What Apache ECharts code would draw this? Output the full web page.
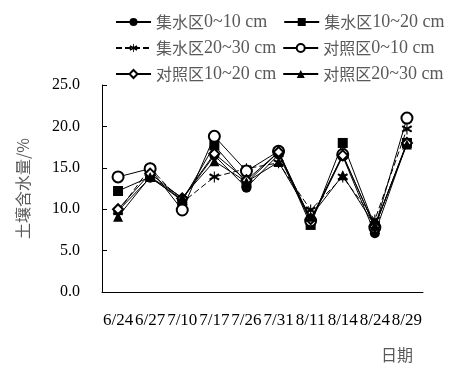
<!DOCTYPE html>
<html>
<head>
<meta charset="utf-8">
<script src="https://cdn.jsdelivr.net/npm/echarts@6/dist/echarts.min.js"></script>
<style>
  html, body { margin: 0; padding: 0; background: #fff; }
  #chart { width: 469px; height: 376px; }
</style>
</head>
<body>
<div id="chart"></div>
<script>
// Fechas de muestreo
const dates = ['6/24', '6/27', '7/10', '7/17', '7/26', '7/31', '8/11', '8/14', '8/24', '8/29'];
const yTicks = [0, 5, 10, 15, 20, 25];

// Contenido de agua del suelo (%) por serie
const jsq0_10 = [9.8, 13.8, 11.2, 16.5, 12.6, 16.6, 8.5, 16.4, 7.1, 18.0];
const jsq10_20 = [12.2, 13.9, 11.0, 17.7, 13.2, 16.9, 8.1, 18.0, 7.9, 18.0];
const jsq20_30 = [9.7, 15.0, 10.8, 13.9, 14.9, 15.6, 9.9, 13.9, 8.7, 19.7];
const dzq0_10 = [13.9, 14.9, 9.9, 18.8, 14.6, 17.0, 8.6, 16.6, 7.8, 21.0];
const dzq10_20 = [10.0, 14.3, 11.3, 16.7, 13.5, 16.9, 8.8, 16.5, 7.9, 18.0];
const dzq20_30 = [9.1, 13.9, 11.4, 15.8, 13.3, 15.7, 9.1, 14.1, 8.0, 17.8];

const names = ['集水区0~10 cm', '集水区10~20 cm', '集水区20~30 cm', '对照区0~10 cm', '对照区10~20 cm', '对照区20~30 cm'];

// Asterisco (tres barras finas)
const starPath = 'path://M-0.5,-5L0.5,-5L0.5,5L-0.5,5Z' +
  'M3.83,-3.37L4.83,-1.63L-3.83,3.37L-4.83,1.63Z' +
  'M-4.83,-1.63L-3.83,-3.37L4.83,1.63L3.83,3.37Z';

const chart = echarts.init(document.getElementById('chart'));

function mkSeries(name, data, symbol, size, dashed) {
  // los símbolos "empty*" se rellenan de blanco y usan color como borde
  return {
    name: name,
    type: 'line',
    data: data,
    symbol: symbol,
    symbolSize: size,
    symbolKeepAspect: true,
    showSymbol: true,
    lineStyle: { color: '#000', width: 1, type: dashed ? [6, 3] : 'solid' },
    itemStyle: { color: '#000', borderWidth: 1 },
    emphasis: { disabled: true },
    animation: false
  };
}

const legendText = {
  color: '#595959',
  rich: {
    c: { color: '#595959', fontSize: 16, fontFamily: '"Noto Sans CJK SC", sans-serif' },
    l: { color: '#595959', fontSize: 18, fontFamily: '"Liberation Serif", serif' }
  }
};
function mkLegend(items, top, gap) {
  return {
    data: items,
    left: 110,
    top: top,
    itemWidth: 35,
    itemHeight: 10,
    itemGap: gap,
    formatter: n => '{c|' + n.slice(0, 3) + '}{l|' + n.slice(3) + '}',
    textStyle: legendText
  };
}

chart.setOption({
  backgroundColor: '#fff',
  legend: [
    mkLegend([names[0], names[1]], 8, 16),
    mkLegend([names[2], names[3]], 34, 6),
    mkLegend([names[4], names[5]], 60, 6)
  ],
  graphic: [{
    type: 'text',
    left: 381,
    top: 347,
    style: { text: '日期', fill: '#595959', fontSize: 16, fontFamily: '"Noto Sans CJK SC", sans-serif' }
  }],
  grid: { left: 102, right: 46, top: 85, bottom: 84 },
  xAxis: {
    type: 'category',
    data: dates,
    axisLine: { lineStyle: { color: '#000', width: 1 } },
    axisTick: { inside: true, length: 5, lineStyle: { color: '#000' } },
    axisLabel: { interval: 0, color: '#000', fontSize: 17, margin: 20, fontFamily: '"Liberation Serif", serif' }
  },
  yAxis: {
    type: 'value',
    min: 0,
    max: 25,
    interval: 5,
    name: '土壤含水量/%',
    nameLocation: 'middle',
    nameGap: 71,
    nameTextStyle: { color: '#595959', fontSize: 16, fontFamily: '"Noto Sans CJK SC", sans-serif' },
    axisLine: { show: true, lineStyle: { color: '#000', width: 1 } },
    axisTick: { show: true, inside: true, length: 5, lineStyle: { color: '#000' } },
    splitLine: { show: false },
    axisLabel: {
      color: '#000', fontSize: 16, margin: 22, fontFamily: '"Liberation Serif", serif',
      formatter: v => v.toFixed(1)
    }
  },
  series: [
    mkSeries(names[0], jsq0_10, 'circle', 10, false),
    mkSeries(names[1], jsq10_20, 'rect', 10, false),
    mkSeries(names[2], jsq20_30, starPath, 11, true),
    mkSeries(names[3], dzq0_10, 'emptyCircle', 11, false),
    mkSeries(names[4], dzq10_20, 'emptyDiamond', 10, false),
    mkSeries(names[5], dzq20_30, 'triangle', 10, false)
  ]
});
</script>
</body>
</html>
